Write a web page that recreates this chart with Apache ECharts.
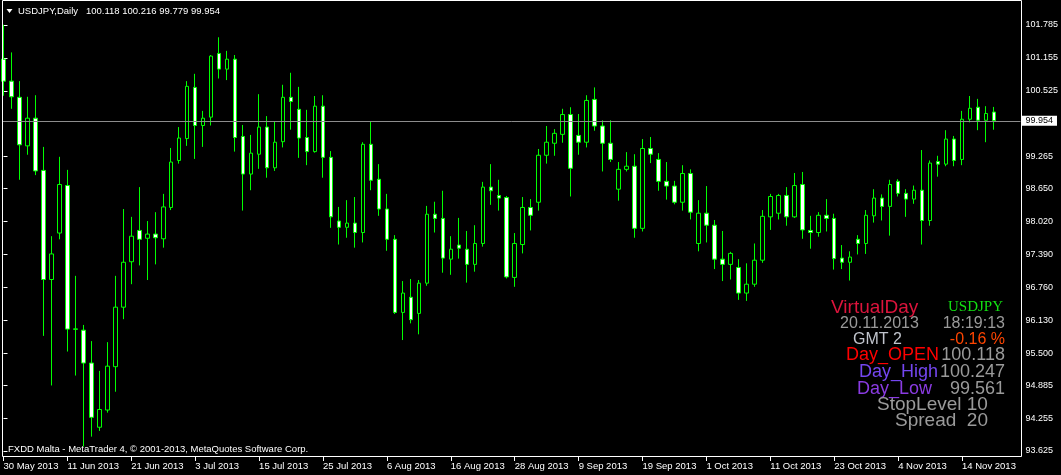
<!DOCTYPE html>
<html><head><meta charset="utf-8">
<script src="https://cdn.jsdelivr.net/npm/echarts@6.0.0/dist/echarts.min.js"></script>
<style>html,body{margin:0;padding:0;background:#000;}#c{width:1061px;height:475px;}</style>
</head><body><div id="c"></div>
<script>
// trading days shown (one candle per day)
const tradingDays = [
  ['May', [30,31]],
  ['Jun', [3,4,5,6,7,10,11,12,13,14,17,18,19,20,21,24,25,26,27,28]],
  ['Jul', [1,2,3,4,5,8,9,10,11,12,15,16,17,18,19,22,23,24,25,26,29,30,31]],
  ['Aug', [1,2,5,6,7,8,9,12,13,14,15,16,19,20,21,22,23,26,27,28,29,30]],
  ['Sep', [2,3,4,5,6,9,10,11,12,13,16,17,18,19,20,23,24,25,26,27,30]],
  ['Oct', [1,2,3,4,7,8,9,10,11,14,15,16,17,18,21,22,23,24,25,28,29,30,31]],
  ['Nov', [1,4,5,6,7,8,11,12,13,14,15,18,19,20]]
];
const dates = [];
tradingDays.forEach(([m, ds]) => ds.forEach(d => dates.push(d + ' ' + m + ' 2013')));

const opens = [101.13,100.71,100.40,99.47,100.00,99.00,96.91,97.80,98.71,95.955,
95.94,95.31,94.08,94.41,95.24,96.38,97.25,97.85,97.70,97.78,
97.69,98.29,99.19,99.61,100.59,99.86,100.02,101.24,100.94,101.13,
99.65,98.93,99.31,99.83,99.05,99.55,100.40,100.17,99.63,99.36,
100.23,99.25,98.03,97.91,97.99,97.81,99.50,98.83,98.26,97.68,
96.28,96.57,96.26,96.84,98.16,98.08,97.30,97.57,97.49,97.20,
97.60,98.68,98.52,98.48,96.95,97.58,98.29,98.39,99.29,99.52,
99.69,100.07,99.67,99.54,100.36,99.85,99.52,98.64,99.02,99.08,
97.89,99.42,99.21,98.79,98.70,98.39,98.94,97.60,98.18,97.95,
97.30,97.20,97.14,96.65,96.82,97.28,98.11,98.18,98.52,98.11,
98.73,97.85,97.81,98.14,98.08,97.32,97.24,97.68,97.60,98.13,
98.47,98.31,98.79,98.56,98.45,98.62,98.04,99.17,99.12,99.60,
99.21,99.98,100.21,99.96,100.118];
const highs = [101.79,101.26,100.71,100.41,100.44,99.45,97.74,99.26,99.01,96.98,
96.04,95.73,95.16,95.71,96.98,98.26,98.11,98.68,98.03,98.20,
98.55,99.43,99.83,100.71,100.85,100.14,101.21,101.55,101.29,101.21,
99.87,99.68,100.46,100.04,99.93,100.64,100.87,100.60,100.16,100.425,
100.44,99.37,98.30,98.43,98.49,99.54,99.93,99.12,98.55,97.76,
96.88,96.92,96.90,98.32,98.40,98.61,97.74,98.09,97.84,97.95,
98.78,99.12,98.82,98.51,97.80,98.49,98.45,99.41,99.85,99.79,
100.18,100.21,100.08,100.44,100.59,99.96,99.96,99.16,99.35,99.31,
99.60,99.64,99.33,99.16,98.80,99.10,99.02,98.43,98.70,98.05,
97.84,97.44,97.30,97.22,97.60,98.24,98.55,98.55,98.68,98.95,
98.97,98.13,98.20,98.45,98.17,97.57,97.45,97.76,98.24,98.64,
98.54,98.82,98.83,98.64,98.71,99.39,99.19,99.28,99.77,99.66,
100.14,100.425,100.37,100.23,100.216];
const lows = [100.43,100.18,98.82,99.30,98.91,95.83,94.88,97.68,95.53,95.07,
93.71,93.90,94.01,94.36,94.76,96.15,96.82,97.18,96.90,97.20,
97.52,98.24,99.13,99.47,99.22,99.45,99.86,100.76,100.73,99.36,
98.23,98.62,99.03,98.86,98.99,99.44,99.78,99.24,99.10,99.34,
98.86,97.90,97.58,97.71,97.52,97.62,98.62,98.13,97.46,96.25,
95.75,96.07,95.86,96.79,97.81,97.04,97.00,97.31,96.85,97.06,
97.54,98.34,98.23,96.93,96.77,97.41,97.85,98.23,99.13,99.28,
99.53,98.50,99.30,99.44,99.76,98.98,99.16,98.42,98.98,97.71,
97.83,99.14,98.61,98.44,98.35,98.23,98.06,97.45,97.62,97.11,
96.88,96.91,96.52,96.50,96.77,97.23,97.86,98.06,97.94,98.09,
97.69,97.50,97.73,97.83,97.10,97.11,96.89,97.39,97.40,98.00,
98.04,97.75,98.50,98.11,98.36,97.58,97.94,98.88,99.08,99.08,
99.10,99.92,99.77,99.54,99.779];
const closes = [100.71,100.41,99.49,100.00,98.99,96.91,97.40,98.73,95.96,95.965,
95.31,94.27,94.42,95.25,96.38,97.24,97.74,97.68,97.78,97.71,
98.30,99.16,99.62,100.61,99.86,100.00,101.19,100.94,101.13,99.63,
98.93,99.33,99.83,99.05,99.54,100.40,100.32,99.62,99.36,100.23,
99.25,98.11,97.91,97.99,97.81,99.50,98.81,98.26,97.68,96.28,
96.65,96.14,96.84,98.16,98.08,97.32,97.49,97.51,97.20,97.60,
98.68,98.61,98.47,96.96,97.60,98.29,98.14,99.29,99.54,99.71,
100.07,99.04,99.54,100.34,99.85,99.52,99.21,99.02,99.08,97.89,
99.42,99.31,98.79,98.70,98.39,98.94,98.20,98.18,97.95,97.30,
97.20,97.41,96.65,96.82,97.28,98.12,98.50,98.52,98.11,98.71,
97.86,97.81,98.14,98.08,97.31,97.24,97.34,97.60,98.14,98.47,
98.31,98.73,98.56,98.45,98.62,98.04,99.14,99.12,99.60,99.19,
99.98,100.19,99.96,100.09,99.954];

const yTicks = [93.625, 94.255, 94.885, 95.500, 96.130, 96.760, 97.390, 98.020, 98.650, 99.265, 100.525, 101.155, 101.785];
const xTickDates = ['30 May 2013','11 Jun 2013','21 Jun 2013','3 Jul 2013','15 Jul 2013','25 Jul 2013','6 Aug 2013','16 Aug 2013','28 Aug 2013','9 Sep 2013','19 Sep 2013','1 Oct 2013','11 Oct 2013','23 Oct 2013','4 Nov 2013','14 Nov 2013'];

const infoRows = [
  {text:'VirtualDay', x:831, y:308, size:19, color:'#dc143c', align:'left'},
  {text:'USDJPY', x:948, y:307, size:15, color:'#12e012', align:'left', serif:true},
  {text:'20.11.2013', x:840, y:324, size:16, color:'#9a9a9a', align:'left'},
  {text:'18:19:13', x:1005, y:324, size:16, color:'#9a9a9a', align:'right'},
  {text:'GMT 2', x:853, y:340, size:16, color:'#c0c4cc', align:'left'},
  {text:'-0.16 %', x:1005, y:340, size:16, color:'#ff4500', align:'right'},
  {text:'Day_OPEN', x:846, y:355, size:18, color:'#ff0000', align:'left'},
  {text:'100.118', x:1005, y:355, size:18, color:'#9a9a9a', align:'right'},
  {text:'Day_High', x:859, y:372, size:18, color:'#7446f0', align:'left'},
  {text:'100.247', x:1005, y:372, size:18, color:'#9a9a9a', align:'right'},
  {text:'Day_Low', x:857, y:389, size:18, color:'#8a3be2', align:'left'},
  {text:'99.561', x:1005, y:389, size:18, color:'#9a9a9a', align:'right'},
  {text:'StopLevel 10', x:877, y:405, size:19, color:'#9a9a9a', align:'left'},
  {text:'Spread  20', x:895, y:421, size:19, color:'#9a9a9a', align:'left'}
];

const last = dates.length - 1;
const ohlc = dates.map((d, i) => [i, opens[i], closes[i], lows[i], highs[i]]);
const FONT = 'Liberation Sans';

const chart = echarts.init(document.getElementById('c'), null, {renderer: 'canvas'});
const graphics = [
  {type:'polygon', shape:{points:[[6.5,9],[12.5,9],[9.5,13]]}, style:{fill:'#fff'}, z:100},
  {type:'text', x:18, y:11, style:{text:'USDJPY,Daily', fill:'#fff', font:'9.5px "Liberation Sans"', textVerticalAlign:'middle'}, z:100},
  {type:'text', x:86, y:11, style:{text:[opens[last], highs[last], lows[last], closes[last]].map(v => v.toFixed(3)).join(' '), fill:'#fff', font:'9.5px "Liberation Sans"', textVerticalAlign:'middle'}, z:100},
  {type:'text', x:8, y:449, style:{text:'FXDD Malta - MetaTrader 4, \u00a9 2001-2013, MetaQuotes Software Corp.', fill:'#fff', font:'9.5px "Liberation Sans"', textVerticalAlign:'middle'}, z:100},
  {type:'rect', shape:{x:2.5, y:0.5, width:1019, height:456}, style:{fill:null, stroke:'#fff', lineWidth:1}, z:100, silent:true}
];
infoRows.forEach(r => graphics.push({
  type:'text', x:r.x, y:r.y, z:100,
  style:{text:r.text, fill:r.color, font: r.size + 'px "' + (r.serif ? 'Liberation Serif' : FONT) + '"', textAlign:r.align, textVerticalAlign:'middle'}
}));

chart.setOption({
  backgroundColor:'#000',
  animation:false,
  grid:{left:2, right:39, top:0, bottom:18},
  xAxis:{
    type:'value', min:-0.1875, max:127.3125,
    splitLine:{show:false}, axisLine:{show:false},
    axisTick:{show:true, length:4, lineStyle:{color:'#fff'}, customValues: xTickDates.map(d => dates.indexOf(d))},
    axisLabel:{color:'#fff', fontSize:9.5, fontFamily:FONT, align:'left', margin:4,
      customValues: xTickDates.map(d => dates.indexOf(d)),
      formatter: v => dates[Math.round(v)]}
  },
  yAxis:{
    type:'value', position:'right', min:93.510, max:102.264, scale:true,
    splitLine:{show:false}, axisLine:{show:false},
    axisTick:{show:true, length:4, lineStyle:{color:'#fff'}, customValues: yTicks},
    axisLabel:{color:'#fff', fontSize:9, fontFamily:FONT, margin:5, customValues: yTicks,
      formatter: v => v.toFixed(3)}
  },
  graphic: graphics,
  series:[
    {
      type:'line', data:[], z:1, silent:true,
      markLine:{
        silent:true, symbol:['none','none'], animation:false,
        data:[{yAxis: closes[last]}],
        lineStyle:{color:'#8c8c8c', type:'solid', width:1},
        label:{position:'end', formatter: closes[last].toFixed(3), color:'#000', backgroundColor:'#fff',
          padding:[1,4,0,4], fontSize:9, fontFamily:FONT, distance:1},
        emphasis:{disabled:true}
      }
    },
    {
      type:'candlestick', name:'USDJPY', data: ohlc, encode:{x:0, y:[1,2,3,4]},
      barWidth:4, silent:true, z:3,
      itemStyle:{color:'#000', color0:'#fff', borderColor:'#00ff00', borderColor0:'#00ff00', borderWidth:1}
    }
  ]
});
</script>
</body></html>
